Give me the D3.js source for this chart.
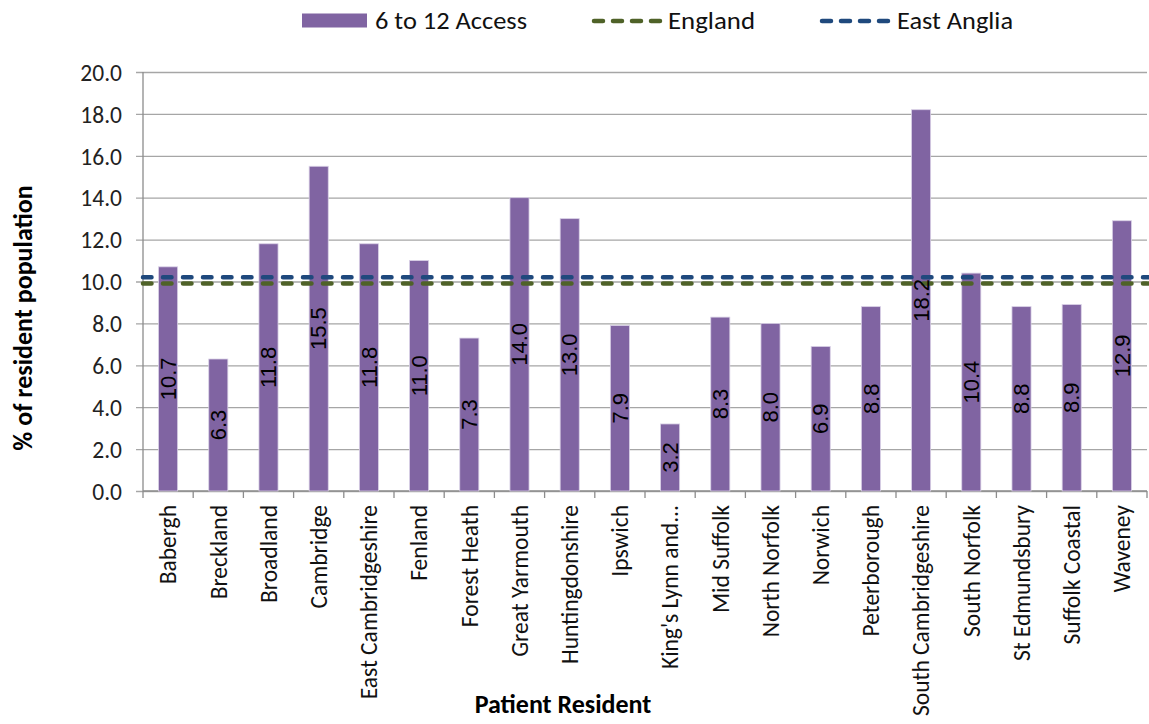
<!DOCTYPE html>
<html>
<head>
<meta charset="utf-8">
<script src="https://cdn.jsdelivr.net/npm/d3@7"></script>
<style>
    body { margin: 0; background: #fff; }
    .chart-container svg { display: block; }
</style>
</head>
<body>
<div class="chart-container"></div>
<script>
// 各區名稱 (x軸)
const districts = [
    'Babergh', 'Breckland', 'Broadland', 'Cambridge', 'East Cambridgeshire',
    'Fenland', 'Forest Heath', 'Great Yarmouth', 'Huntingdonshire', 'Ipswich',
    "King's Lynn and...", 'Mid Suffolk', 'North Norfolk', 'Norwich', 'Peterborough',
    'South Cambridgeshire', 'South Norfolk', 'St Edmundsbury', 'Suffolk Coastal', 'Waveney'
];
// 6 to 12 Access 數值
const accessValues = [
    10.7, 6.3, 11.8, 15.5, 11.8, 11.0, 7.3, 14.0, 13.0, 7.9,
    3.2, 8.3, 8.0, 6.9, 8.8, 18.2, 10.4, 8.8, 8.9, 12.9
];
// 參考線
const englandValue = 9.9;
const eastAngliaValue = 10.2;
const yTicks = [0, 2, 4, 6, 8, 10, 12, 14, 16, 18, 20];

(function(){
    const svg_width = 1149;
    const svg_height = 724;
    const margin = { top: 72, right: 2, bottom: 233, left: 143 };
    const chart_width = svg_width - margin.left - margin.right;
    const chart_height = svg_height - margin.top - margin.bottom;

    const calibri = 'Carlito, Calibri, Lato, sans-serif';
    const barColor = '#8064a2';
    const series = [
        { name: 'England', value: englandValue, color: '#4f6228' },
        { name: 'East Anglia', value: eastAngliaValue, color: '#1f497d' }
    ];

    const svg = d3.select('.chart-container').append('svg')
        .attr('width', svg_width).attr('height', svg_height);
    const g = svg.append('g')
        .attr('transform', `translate(${margin.left},${margin.top})`);

    //scale
    const xScale = d3.scaleBand().domain(districts).range([0, chart_width]).paddingInner(0.62).paddingOuter(0.31);
    const xOuter = d3.scaleLinear().domain([0, districts.length]).range([0, chart_width]);
    const yScale = d3.scaleLinear().domain([0, 20]).range([chart_height, 0]);

    //Gridlines + Y axis
    const yAxis = d3.axisLeft(yScale).tickValues(yTicks)
        .tickFormat(d3.format('.1f'))
        .tickSizeInner(-chart_width - 7)
        .tickSizeOuter(0)
        .tickPadding(14);
    const yAxisG = g.append('g').attr('class', 'y axis')
        .attr('transform', 'translate(-7,0)')
        .call(yAxis);
    yAxisG.select('.domain').remove();
    yAxisG.selectAll('.tick line').attr('stroke', '#a6a6a6').attr('stroke-width', 1.3);
    yAxisG.selectAll('.tick text')
        .style('font-family', calibri).style('font-size', '23.5px').style('fill', '#222')
        .attr('dy', '0.35em');

    //Y axis line
    g.append('line')
        .attr('x1', 0).attr('x2', 0).attr('y1', 0).attr('y2', chart_height)
        .attr('stroke', '#8c8c8c').attr('stroke-width', 1.3);

    //X axis ticks (between categories)
    const xAxisG = g.append('g').attr('class', 'x axis')
        .attr('transform', `translate(0,${chart_height})`);
    xAxisG.append('line')
        .attr('x1', 0).attr('x2', chart_width)
        .attr('stroke', '#8c8c8c').attr('stroke-width', 1.3);
    xAxisG.selectAll('.xtick').data(d3.range(districts.length + 1)).enter()
        .append('line')
        .attr('x1', d => xOuter(d)).attr('x2', d => xOuter(d))
        .attr('y1', 0).attr('y2', 7)
        .attr('stroke', '#8c8c8c').attr('stroke-width', 1.3);
    xAxisG.selectAll('.xlabel').data(districts).enter()
        .append('text')
        .attr('transform', d => `translate(${xScale(d) + xScale.bandwidth() / 2},14) rotate(-90)`)
        .attr('dy', '0.35em')
        .style('text-anchor', 'end')
        .style('font-family', calibri).style('font-size', '23.5px').style('fill', '#111')
        .text(d => d);

    //Bars
    g.selectAll('.bar').data(accessValues).enter()
        .append('rect')
        .attr('class', 'bar')
        .attr('x', (d, i) => xScale(districts[i]))
        .attr('y', d => yScale(d))
        .attr('width', xScale.bandwidth())
        .attr('height', d => chart_height - yScale(d))
        .style('fill', barColor)
        .style('stroke', '#d9d0e6').style('stroke-width', 0.8);

    //Reference lines 畫在長條上面
    g.selectAll('.ref-line').data(series).enter()
        .append('line')
        .attr('x1', 0).attr('x2', chart_width + margin.right)
        .attr('y1', d => yScale(d.value)).attr('y2', d => yScale(d.value))
        .attr('stroke', d => d.color)
        .attr('stroke-width', 4.5)
        .attr('stroke-linecap', 'round')
        .attr('stroke-dasharray', '8.5,11.5');

    //Bar labels
    g.selectAll('.bar-label').data(accessValues).enter()
        .append('text')
        .attr('transform', (d, i) => `translate(${xScale(districts[i]) + xScale.bandwidth() / 2},${(yScale(d) + chart_height) / 2}) rotate(-90)`)
        .attr('dy', '0.35em')
        .style('text-anchor', 'middle')
        .style('font-family', '"Liberation Sans", Arial, sans-serif')
        .style('font-size', '22px').style('fill', '#000')
        .text(d => d3.format('.1f')(d));

    //Axis titles
    svg.append('text')
        .attr('transform', `translate(23,${318}) rotate(-90)`)
        .attr('dy', '0.35em')
        .style('text-anchor', 'middle')
        .style('font-family', calibri).style('font-size', '26px').style('font-weight', 'bold')
        .text('% of resident population');
    svg.append('text')
        .attr('x', 563).attr('y', 713)
        .style('text-anchor', 'middle')
        .style('font-family', calibri).style('font-size', '26px').style('font-weight', 'bold')
        .text('Patient Resident');

    //Legend
    const legend = svg.append('g').attr('class', 'legend');
    legend.append('rect')
        .attr('x', 302).attr('y', 13.5).attr('width', 65).attr('height', 14)
        .style('fill', barColor);
    legend.append('text')
        .attr('x', 375).attr('y', 21).attr('dy', '0.35em')
        .attr('textLength', 152).attr('lengthAdjust', 'spacingAndGlyphs')
        .style('font-family', calibri).style('font-size', '24px').style('fill', '#111')
        .text('6 to 12 Access');
    const legendLines = [
        { s: series[0], x1: 592, x2: 665, tx: 668, w: 87 },
        { s: series[1], x1: 820, x2: 890, tx: 897, w: 116 }
    ];
    legendLines.forEach(l => {
        legend.append('line')
            .attr('x1', l.x1 + 2).attr('x2', l.x2 - 2).attr('y1', 21).attr('y2', 21)
            .attr('stroke', l.s.color).attr('stroke-width', 4.5)
            .attr('stroke-linecap', 'round').attr('stroke-dasharray', '9,10');
        legend.append('text')
            .attr('x', l.tx).attr('y', 21).attr('dy', '0.35em')
            .attr('textLength', l.w).attr('lengthAdjust', 'spacingAndGlyphs')
            .style('font-family', calibri).style('font-size', '24px').style('fill', '#111')
            .text(l.s.name);
    });
})();
</script>
</body>
</html>
